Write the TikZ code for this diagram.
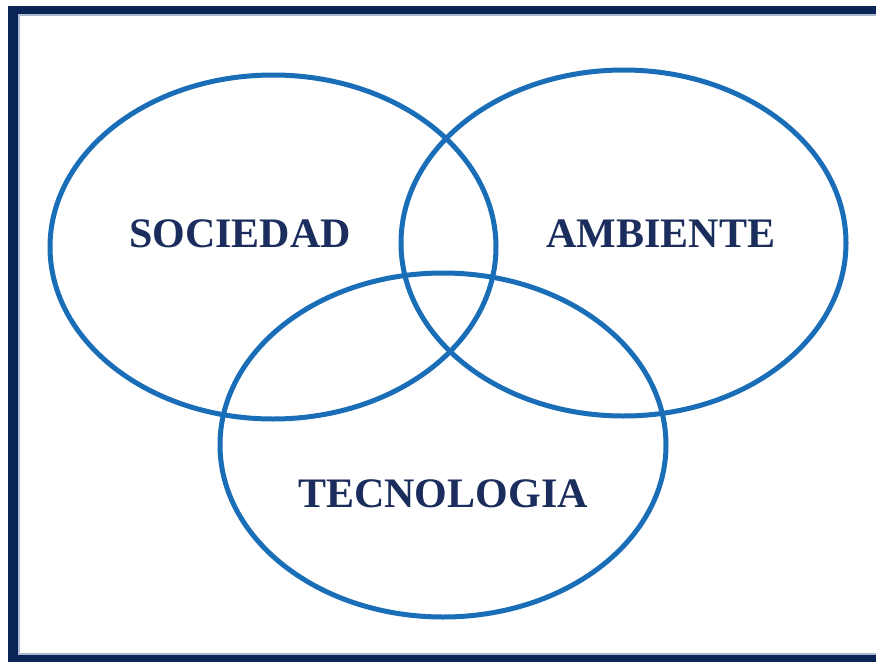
\documentclass[tikz,border=0pt]{standalone}
\usepackage{fontspec}
\setmainfont{Liberation Serif}
\definecolor{navy}{RGB}{10,36,87}
\definecolor{txtnavy}{RGB}{27,45,92}
\definecolor{ringblue}{RGB}{26,110,184}
\definecolor{edgegray}{RGB}{170,185,205}
\tikzset{
  ring/.style={draw=ringblue, line width=5pt},
  lbl/.style={text=txtnavy, font=\fontsize{42}{48}\selectfont\bfseries, inner sep=0pt}
}
\begin{document}
\begin{tikzpicture}[x=1pt,y=-1pt]
\useasboundingbox (0,0) rectangle (876,662);
\fill[white] (0,0) rectangle (876,662);
\fill[navy] (8,6) rectangle (876,662);
\fill[edgegray] (18,14) rectangle (876,655);
\fill[white] (20,16) rectangle (876,653);
\draw[ring] (273,247) ellipse [x radius=223, y radius=172];
\draw[ring] (623.5,243) ellipse [x radius=222.5, y radius=173];
\draw[ring] (443,445) ellipse [x radius=223, y radius=172];
\node[lbl] (soc) at (240,234) {SOCIEDAD};
\node[lbl] (amb) at (661,234) {AMBIENTE};
\node[lbl] (tec) at (443,494) {TECNOLOGIA};
\end{tikzpicture}
\end{document}
